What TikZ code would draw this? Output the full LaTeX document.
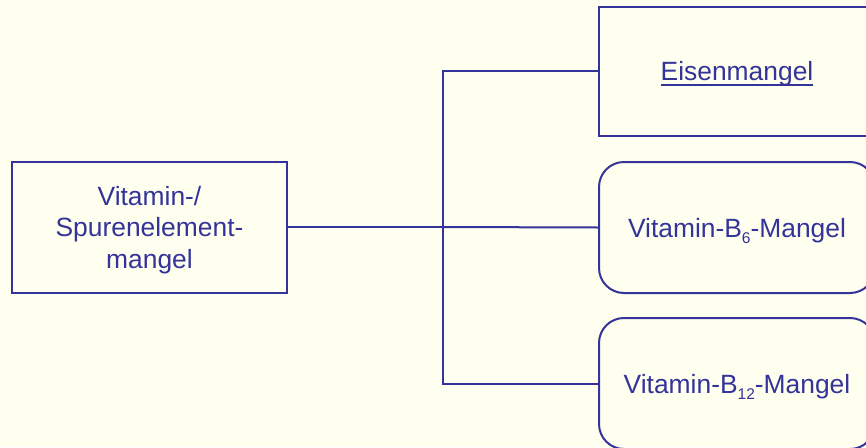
\documentclass[tikz,border=0pt]{standalone}
\usepackage{fontspec}
\setmainfont{Liberation Sans}
\definecolor{bgc}{RGB}{255,255,240}
\definecolor{ink}{RGB}{51,51,153}
\newcommand\mysub[1]{\raisebox{-6.5pt}{\fontsize{15.5}{15.5}\selectfont #1}}
\newcommand\myul[1]{\setbox0\hbox{#1}\rlap{\rule[-5pt]{\wd0}{1.8pt}}\box0}
\begin{document}
\begin{tikzpicture}[x=1pt,y=-1pt,
  box/.style={draw=ink,line width=2pt,text=ink,align=center,inner sep=0pt,
    font=\fontsize{26.4}{31.5}\selectfont,text height=19pt,text depth=-1.5pt},
  conn/.style={draw=ink,line width=2pt}]
\fill[bgc] (0,0) rectangle (866,447);
\useasboundingbox (0,0) rectangle (866,447);
\clip (0,0) rectangle (866,447);
\node[box,text height=82pt,minimum width=275pt,minimum height=131pt] (L) at (149.5,227) {Vitamin-/\\Spurenelement-\\mangel};
\node[box,minimum width=276pt,minimum height=129pt] (E) at (737,71) {\myul{Eisenmangel}};
\node[box,rounded corners=25pt,minimum width=276pt,minimum height=131pt] (B6) at (737,227.5) {Vitamin-B\mysub{6}-Mangel};
\node[box,rounded corners=25pt,minimum width=276pt,minimum height=131pt] (B12) at (737,383.5) {Vitamin-B\mysub{12}-Mangel};
\coordinate (j) at (443,227);
\draw[conn] (L.east) -- (j);
\draw[conn] (j) |- (E.west);
\draw[conn] (j) -- (B6.west);
\draw[conn] (j) |- (B12.west);
\end{tikzpicture}
\end{document}
